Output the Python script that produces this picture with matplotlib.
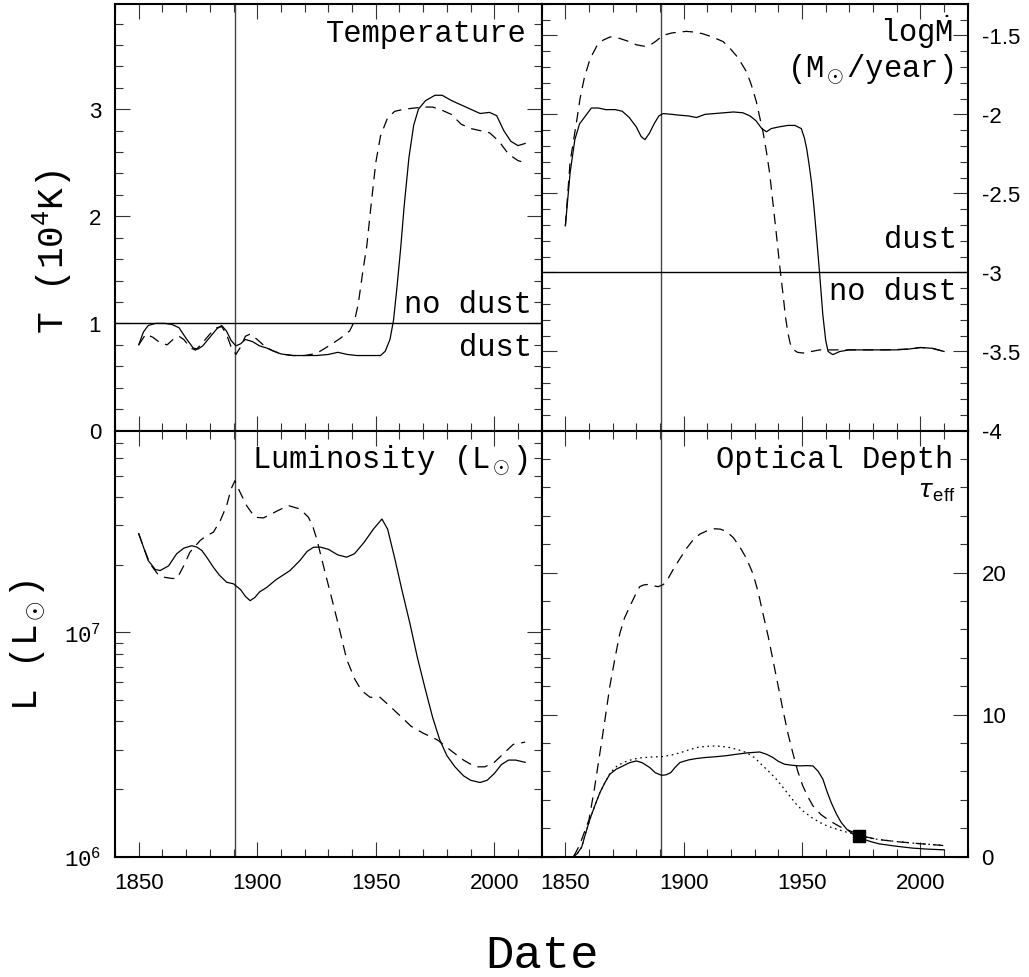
import numpy as np
import matplotlib
matplotlib.use("Agg")
import matplotlib.pyplot as plt
from matplotlib.ticker import (MultipleLocator, FixedLocator, FuncFormatter,
                               LogLocator, NullFormatter)

# ---------------- data ----------------
eruption_year = 1890.5

# Temperature (10^4 K)
temp_solid_year = [1850, 1852, 1854, 1857, 1861, 1864, 1867, 1870, 1873, 1875, 1877, 1880,
                   1883, 1885, 1887, 1889, 1891, 1893, 1895, 1898, 1901, 1904, 1907, 1910,
                   1915, 1920, 1925, 1930, 1934, 1938, 1942, 1948, 1952, 1954, 1956, 1957.5,
                   1959, 1960.5, 1962, 1964, 1966, 1968, 1971, 1975, 1978, 1982, 1986, 1990,
                   1994, 1998, 2001, 2004, 2007, 2010, 2013]
temp_solid = [0.80, 0.92, 0.98, 1.00, 1.00, 0.99, 0.96, 0.86, 0.77, 0.76, 0.79, 0.87,
              0.95, 0.98, 0.93, 0.84, 0.79, 0.81, 0.85, 0.83, 0.79, 0.77, 0.74, 0.715,
              0.70, 0.70, 0.70, 0.71, 0.73, 0.71, 0.70, 0.70, 0.70, 0.74, 0.85, 1.03,
              1.35, 1.70, 2.10, 2.55, 2.85, 3.00, 3.08, 3.13, 3.13, 3.08, 3.04, 3.00,
              2.96, 2.97, 2.94, 2.80, 2.70, 2.66, 2.68]
temp_dash_year = [1850, 1853, 1856, 1859, 1862, 1865, 1867, 1869, 1872, 1874, 1877, 1880,
                  1883, 1885, 1887, 1889, 1891, 1893, 1895, 1897, 1900, 1903, 1906, 1910,
                  1915, 1920, 1925, 1928, 1931, 1935, 1939, 1941, 1942.6, 1944.7, 1946.2,
                  1948, 1950, 1952, 1955, 1958, 1962, 1966, 1970, 1974, 1978, 1982, 1986,
                  1990, 1994, 1998, 2002, 2006, 2010, 2013]
temp_dash = [0.80, 0.90, 0.87, 0.82, 0.80, 0.86, 0.88, 0.85, 0.77, 0.75, 0.82, 0.90,
             0.96, 0.97, 0.90, 0.78, 0.71, 0.78, 0.88, 0.90, 0.85, 0.79, 0.75, 0.715,
             0.70, 0.70, 0.72, 0.76, 0.80, 0.86, 0.93, 1.02, 1.18, 1.51, 1.72,
             2.10, 2.50, 2.75, 2.92, 2.98, 3.00, 3.01, 3.02, 3.02, 2.99, 2.95, 2.86,
             2.82, 2.80, 2.78, 2.70, 2.58, 2.52, 2.50]

# log mass-loss rate (Msun/yr)
mdot_solid_year = [1850, 1852, 1854, 1856, 1858, 1861, 1864, 1867, 1871, 1874, 1877, 1880,
                   1882, 1883.6, 1885.5, 1887.5, 1889.5, 1891.3, 1895, 1898, 1902, 1905.4,
                   1909, 1913, 1917, 1921, 1925, 1928, 1930.5, 1933, 1935, 1937, 1940, 1944,
                   1947, 1949.7, 1951, 1952, 1953, 1954, 1955, 1956, 1957.5, 1958.8, 1960,
                   1961, 1963, 1966, 1970, 1975, 1980, 1985, 1990, 1995, 2000, 2005, 2010]
mdot_solid = [-2.705, -2.37, -2.16, -2.06, -2.02, -1.96, -1.96, -1.97, -1.97, -1.98, -2.02, -2.08,
              -2.14, -2.16, -2.12, -2.06, -2.01, -1.995, -2.00, -2.005, -2.01, -2.02,
              -2.00, -1.995, -1.99, -1.985, -1.99, -2.01, -2.04, -2.09, -2.11, -2.09, -2.08, -2.07,
              -2.07, -2.09, -2.15, -2.22, -2.32, -2.43, -2.58, -2.75, -3.02, -3.27, -3.43,
              -3.50, -3.52, -3.50, -3.49, -3.49, -3.49, -3.49, -3.49, -3.485, -3.475, -3.48, -3.50]
mdot_dash_year = [1850, 1852, 1853.3, 1855, 1856.2, 1858, 1860.4, 1863.2, 1866, 1869, 1873,
                  1877, 1880, 1883.6, 1886, 1888, 1891.3, 1895, 1901, 1905, 1908, 1912,
                  1916.7, 1920, 1922.3, 1924.5, 1926.5, 1928.5, 1930.7, 1932, 1933.5, 1935,
                  1936.3, 1937.7, 1939.1, 1940.5, 1941.9, 1943, 1944, 1945, 1946.1, 1948,
                  1950.4, 1954, 1957.5, 1965, 1975, 1985, 1995, 2000, 2005, 2010]
mdot_dash = [-2.705, -2.30, -2.18, -2.02, -1.90, -1.77, -1.65, -1.57, -1.53, -1.51, -1.52,
             -1.54, -1.56, -1.57, -1.56, -1.54, -1.50, -1.485, -1.475, -1.48, -1.49, -1.51,
             -1.54, -1.59, -1.63, -1.68, -1.73, -1.81, -1.92, -2.01, -2.11, -2.24,
             -2.37, -2.56, -2.75, -2.95, -3.13, -3.28, -3.38, -3.45, -3.485, -3.505,
             -3.51, -3.50, -3.49, -3.49, -3.49, -3.49, -3.485, -3.475, -3.48, -3.50]

# log luminosity (Lsun)
lum_solid_year = [1850, 1852, 1854, 1857, 1859, 1862.6, 1866, 1869, 1872.4, 1874.5, 1876.6,
                  1879, 1881.5, 1884, 1887.1, 1890, 1893, 1895, 1897, 1899, 1901, 1904, 1908,
                  1913.8, 1918, 1921, 1923.7, 1926.5, 1930, 1934, 1937.7, 1941, 1945, 1949,
                  1952.6, 1955, 1958, 1961, 1964.4, 1967.5, 1970.8, 1974, 1977, 1980, 1983.4,
                  1987, 1990, 1994, 1997, 2000, 2003, 2006, 2009, 2013]
lum_solid_log = [7.44, 7.38, 7.32, 7.28, 7.275, 7.296, 7.35, 7.375, 7.386, 7.38, 7.365,
                 7.33, 7.29, 7.255, 7.223, 7.216, 7.19, 7.16, 7.141, 7.155, 7.18, 7.20, 7.235,
                 7.275, 7.32, 7.36, 7.379, 7.38, 7.37, 7.345, 7.335, 7.35, 7.40, 7.46,
                 7.505, 7.46, 7.33, 7.19, 7.04, 6.89, 6.75, 6.62, 6.52, 6.45, 6.40,
                 6.36, 6.34, 6.33, 6.34, 6.37, 6.41, 6.43, 6.43, 6.42]
lum_dash_year = [1850, 1852, 1854.8, 1858, 1861, 1864, 1866.2, 1869, 1871.6, 1875.9, 1878.5,
                 1881.5, 1884.5, 1887.1, 1889, 1890.6, 1892.5, 1895.5, 1899, 1902.6, 1905.5,
                 1908.2, 1913.1, 1918, 1921.6, 1923.5, 1925.1, 1928.6, 1932.2, 1935, 1937.7,
                 1941.2, 1944, 1947.6, 1951.8, 1956, 1960, 1965, 1970, 1976, 1982, 1987,
                 1992, 1996, 2000, 2004, 2008, 2013]
lum_dash_log = [7.44, 7.38, 7.305, 7.26, 7.245, 7.24, 7.24, 7.297, 7.357, 7.409, 7.43,
                7.446, 7.50, 7.565, 7.64, 7.676, 7.63, 7.565, 7.513, 7.51, 7.525,
                7.54, 7.565, 7.55, 7.513, 7.47, 7.416, 7.268, 7.119, 7.0, 6.88,
                6.79, 6.74, 6.71, 6.71, 6.67, 6.63, 6.58, 6.55, 6.52, 6.47, 6.43,
                6.40, 6.40, 6.42, 6.46, 6.50, 6.51]

# effective optical depth
tau_solid_year = [1853.5, 1855, 1856.9, 1858.5, 1860.4, 1862.5, 1864.6, 1866.7, 1868.8, 1871.5,
                  1874.4, 1877, 1880, 1882.5, 1885.7, 1888, 1890.6, 1892.5, 1894.5, 1896.5,
                  1898.4, 1902, 1905.4, 1909, 1913.8, 1918, 1922.3, 1927, 1932.1, 1935,
                  1937.7, 1940, 1942.6, 1946, 1949, 1952, 1954.6, 1956.8, 1958.8, 1960.5,
                  1962.3, 1964.5, 1966.5, 1969, 1971.4, 1973.9, 1975.6, 1979, 1982.6, 1990,
                  1996.7, 2003, 2010]
tau_solid = [0.0, 0.2, 0.66, 1.6, 2.64, 3.6, 4.5, 5.2, 5.8, 6.15,
             6.38, 6.6, 6.73, 6.6, 6.26, 5.9, 5.72, 5.75, 5.9, 6.3,
             6.62, 6.8, 6.9, 6.97, 7.03, 7.1, 7.2, 7.3, 7.36, 7.2,
             6.97, 6.7, 6.5, 6.42, 6.38, 6.4, 6.38, 6.0, 5.45, 4.6,
             3.81, 3.0, 2.41, 1.9, 1.59, 1.42, 1.24, 1.05, 0.89, 0.72,
             0.59, 0.52, 0.47]
tau_dash_year = [1853.5, 1856, 1858, 1860, 1862.3, 1864.6, 1866.7, 1868.8, 1871, 1873, 1875,
                 1877.2, 1879.5, 1881.4, 1883, 1885, 1887, 1889.2, 1891.4, 1893.5, 1895.5,
                 1898.5, 1901.2, 1904, 1906.8, 1910, 1913.1, 1915.5, 1918, 1921, 1923.7,
                 1926.5, 1929.3, 1931.5, 1933.5, 1935.7, 1937.7, 1939.8, 1941.9, 1944, 1946.1,
                 1948.2, 1950.3, 1952.5, 1954.6, 1958, 1961.6, 1966, 1970.1, 1975.6, 1982,
                 1989.7, 2000, 2010.1]
tau_dash = [0.0, 0.8, 1.7, 2.6, 4.8, 7.3, 9.6, 12.0, 14.0, 15.7, 16.8,
            17.6, 18.4, 19.0, 19.12, 19.16, 19.08, 19.0, 19.15, 19.6, 20.2,
            21.0, 21.7, 22.3, 22.7, 22.95, 23.08, 23.05, 22.9, 22.45, 21.8,
            21.0, 19.9, 18.6, 17.1, 15.5, 13.85, 12.1, 10.35, 8.7, 7.3,
            6.0, 4.98, 4.2, 3.57, 2.95, 2.52, 2.1, 1.82, 1.43, 1.2,
            1.05, 0.9, 0.77]
tau_dot_year = [1853.5, 1855, 1856.9, 1858.5, 1860.4, 1862.5, 1864.6, 1866.7, 1869, 1872,
                1875, 1878.6, 1882, 1886, 1891.3, 1895, 1898.4, 1902, 1905.4, 1909, 1912.4,
                1916, 1919.5, 1923, 1926.5, 1930, 1933.5, 1936.5, 1939.1, 1942, 1944.7,
                1947.5, 1950.3, 1954, 1957.4, 1961, 1964.4, 1968, 1972.1, 1973.9, 1980,
                1990, 2000, 2010]
tau_dot = [0.0, 0.2, 0.66, 1.6, 2.64, 3.6, 4.5, 5.2, 5.9, 6.4,
           6.65, 6.85, 6.95, 7.0, 7.04, 7.15, 7.3, 7.5, 7.67, 7.75, 7.78,
           7.76, 7.67, 7.52, 7.32, 6.95, 6.38, 5.9, 5.45, 4.85, 4.28,
           3.7, 3.22, 2.75, 2.41, 2.12, 1.94, 1.75, 1.59, 1.5, 1.25,
           1.05, 0.9, 0.78]
tau_obs_year = [1973.9]
tau_obs = [1.47]

x_ticklabels = [1850, 1900, 1950, 2000]

# ---------------- style ----------------
plt.rcParams.update({
    "font.family": ["Liberation Mono", "DejaVu Sans"],
    "mathtext.fontset": "custom",
    "mathtext.rm": "Liberation Mono",
    "mathtext.it": "Liberation Mono:italic",
    "mathtext.sf": "Liberation Sans",
    "mathtext.fallback": "cm",
    "axes.unicode_minus": False,
    "lines.scale_dashes": False,
})

W, H = 1029, 978
fig = plt.figure(figsize=(W / 100, H / 100), dpi=100)

xl, xm, xr = 115 / W, 541.7 / W, 967.7 / W
yt, ym, yb = 1 - 4.7 / H, 1 - 431.5 / H, 1 - 857.5 / H

ax_t = fig.add_axes([xl, ym, xm - xl, yt - ym])
ax_m = fig.add_axes([xm, ym, xr - xm, yt - ym])
ax_l = fig.add_axes([xl, yb, xm - xl, ym - yb])
ax_d = fig.add_axes([xm, yb, xr - xm, ym - yb])

LW = 0.9
DASH = (0, (7.5, 5.0))
DOT = (0, (1.2, 2.6))

for ax in (ax_t, ax_m, ax_l, ax_d):
    ax.set_xlim(1840, 2020)
    ax.xaxis.set_major_locator(FixedLocator(x_ticklabels))
    ax.xaxis.set_minor_locator(MultipleLocator(10))
    ax.xaxis.set_major_formatter(FuncFormatter(lambda v, p: "%d" % v))
    ax.tick_params(which="both", direction="in", top=True, bottom=True, left=True,
                   right=True, color="#333333", width=0.8, labelsize=16,
                   labelfontfamily="Liberation Sans")
    ax.tick_params(which="major", length=11)
    ax.tick_params(which="minor", length=5.8)
    ax.tick_params(axis="x", pad=11)
    ax.tick_params(axis="y", pad=10)
    for s in ax.spines.values():
        s.set_linewidth(1.5)
    ax.axvline(eruption_year, color="#444444", lw=1.0)

for ax in (ax_t, ax_m):
    ax.tick_params(labelbottom=False)
for ax in (ax_m, ax_d):
    ax.tick_params(labelleft=False, labelright=True)

# Temperature
ax_t.plot(temp_solid_year, temp_solid, color="k", lw=LW)
ax_t.plot(temp_dash_year, temp_dash, color="k", lw=LW, ls=DASH)
ax_t.axhline(1.0, color="k", lw=1.0)
ax_t.set_ylim(0, 3.985)
ax_t.yaxis.set_major_locator(FixedLocator([0, 1, 2, 3]))
ax_t.yaxis.set_minor_locator(MultipleLocator(0.2))
ax_t.yaxis.set_major_formatter(FuncFormatter(lambda v, p: "%g" % v))

# Mass-loss rate
ax_m.plot(mdot_solid_year, mdot_solid, color="k", lw=LW)
ax_m.plot(mdot_dash_year, mdot_dash, color="k", lw=LW, ls=DASH)
ax_m.axhline(-3.0, color="k", lw=1.0)
ax_m.set_ylim(-4, -1.3)
ax_m.yaxis.set_major_locator(MultipleLocator(0.5))
ax_m.yaxis.set_minor_locator(MultipleLocator(0.1))
ax_m.yaxis.set_major_formatter(FuncFormatter(lambda v, p: "%g" % round(v, 2)))

# Luminosity
ax_l.set_yscale("log")
ax_l.plot(lum_solid_year, 10 ** np.array(lum_solid_log), color="k", lw=LW)
ax_l.plot(lum_dash_year, 10 ** np.array(lum_dash_log), color="k", lw=LW, ls=DASH)
ax_l.set_ylim(1e6, 7.94e7)
ax_l.yaxis.set_major_locator(LogLocator(base=10, numticks=10))
ax_l.yaxis.set_minor_locator(LogLocator(base=10, subs=np.arange(2, 10), numticks=20))
ax_l.yaxis.set_minor_formatter(NullFormatter())
ax_l.yaxis.set_major_formatter(FuncFormatter(lambda v, p: r"$10^{%d}$" % round(np.log10(v))))

# Optical depth
ax_d.plot(tau_solid_year, tau_solid, color="k", lw=LW)
ax_d.plot(tau_dash_year, tau_dash, color="k", lw=LW, ls=DASH)
ax_d.plot(tau_dot_year, tau_dot, color="k", lw=LW, ls=DOT)
ax_d.plot(tau_obs_year, tau_obs, ls="none", marker="s", ms=8.5, color="k")
ax_d.set_ylim(0, 30)
ax_d.yaxis.set_major_locator(FixedLocator([0, 10, 20]))
ax_d.yaxis.set_minor_locator(MultipleLocator(2))
ax_d.yaxis.set_major_formatter(FuncFormatter(lambda v, p: "%d" % v))


def ftext(x, y, s, **kw):
    fig.text(x / W, 1 - y / H, s, **kw)


TS = 22
ftext(527, 41.7, "Temperature", fontsize=TS, ha="right", va="baseline")
ftext(531.7, 313.3, "no dust", fontsize=TS, ha="right", va="baseline")
ftext(531.7, 356, "dust", fontsize=TS, ha="right", va="baseline")
ftext(953.3, 41.7, r"log$\dot{\rm M}$", fontsize=TS, ha="right", va="baseline")
ftext(953.3, 77.3, r"(M$_\odot$/year)", fontsize=TS, ha="right", va="baseline")
ftext(956.7, 248.3, "dust", fontsize=TS, ha="right", va="baseline")
ftext(956.7, 300, "no dust", fontsize=TS, ha="right", va="baseline")
ftext(528, 468, r"Luminosity (L$_\odot$)", fontsize=TS, ha="right", va="baseline")
ftext(953.3, 468.3, "Optical Depth", fontsize=TS, ha="right", va="baseline")
ftext(955, 498, r"$\tau_{\mathsf{eff}}$", fontsize=19, ha="right", va="baseline")

ftext(52, 252, r"T (10$^4$K)", fontsize=26, rotation=90, ha="center", va="center")
ftext(28, 645, r"L (L$_\odot$)", fontsize=26, rotation=90, ha="center", va="center")
ftext(541.7, 956, "Date", fontsize=34, ha="center", va="center")

fig.savefig("out.png", dpi=100)
